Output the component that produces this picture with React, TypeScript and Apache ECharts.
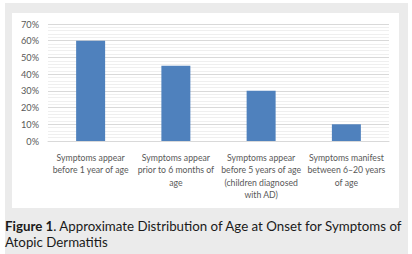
import React, { useEffect, useRef } from "react";
import * as echarts from "echarts";

const categories: string[] = [
  "Symptoms appear\nbefore 1 year of age",
  "Symptoms appear\nprior to 6 months of\nage",
  "Symptoms appear\nbefore 5 years of age\n(children diagnosed\nwith AD)",
  "Symptoms manifest\nbetween 6–20 years\nof age",
];
const values: number[] = [60, 45, 30, 10];
const yTicks = { min: 0, max: 70, interval: 10 };
const captionBold = "Figure 1";
const captionLine1 = ". Approximate Distribution of Age at Onset for Symptoms of";
const captionLine2 = "Atopic Dermatitis";

export default function App() {
  const ref = useRef<HTMLDivElement>(null);
  useEffect(() => {
    if (!ref.current) return;
    const chart = echarts.init(ref.current, null, { renderer: "svg" });
    const font = "Lato, 'Open Sans', sans-serif";
    const capFont = "Lato, sans-serif";
    const capSize = 13.3;
    chart.setOption({
      animation: false,
      backgroundColor: "#ffffff",
      textStyle: { fontFamily: font },
      graphic: [
        { type: "rect", z: -10, shape: { x: 5, y: 3, width: 403, height: 251 }, style: { fill: "#ebebeb" } },
        { type: "rect", z: -9, shape: { x: 12, y: 13, width: 387, height: 195 }, style: { fill: "#ffffff" } },
        {
          type: "text",
          x: 5,
          y: 217.5,
          style: {
            text: "{b|" + captionBold + "}{r|" + captionLine1 + "}",
            fontFamily: capFont,
            fontSize: capSize,
            lineHeight: 16,
            fill: "#1a1a1a",
            rich: {
              b: { fontWeight: "bold", fontFamily: capFont, fontSize: capSize, lineHeight: 16, fill: "#1a1a1a" },
              r: { fontFamily: capFont, fontSize: capSize, lineHeight: 16, fill: "#1a1a1a" },
            },
          },
        },
        {
          type: "text",
          x: 5,
          y: 233.6,
          style: {
            text: captionLine2,
            fontFamily: capFont,
            fontSize: capSize,
            lineHeight: 16,
            fill: "#1a1a1a",
          },
        },
      ],
      grid: { left: 48, right: 23, top: 24, bottom: 113, containLabel: false },
      xAxis: {
        type: "category",
        data: categories,
        axisTick: { show: false },
        axisLine: { lineStyle: { color: "#d9d9d9" } },
        axisLabel: {
          color: "#595959",
          fontSize: 8.7,
          lineHeight: 12.5,
          margin: 10,
          interval: 0,
          fontFamily: font,
        },
      },
      yAxis: {
        type: "value",
        min: yTicks.min,
        max: yTicks.max,
        interval: yTicks.interval,
        axisLine: { show: false },
        axisTick: { show: false },
        axisLabel: {
          color: "#595959",
          fontSize: 9.2,
          margin: 9,
          formatter: (v: number) => v + "%",
          fontFamily: font,
        },
        splitLine: { lineStyle: { color: "#d9d9d9", width: 1 } },
        minorTick: { show: false, splitNumber: 5 },
        minorSplitLine: { show: true, lineStyle: { color: "#efefef", width: 1 } },
      },
      series: [
        {
          type: "bar",
          data: values,
          barWidth: "34%",
          itemStyle: { color: "#4f81bd" },
        },
      ],
    });
    return () => chart.dispose();
  }, []);
  return (
    <div
      ref={ref}
      style={{ position: "fixed", left: 0, top: 0, width: 412, height: 254 }}
    />
  );
}
